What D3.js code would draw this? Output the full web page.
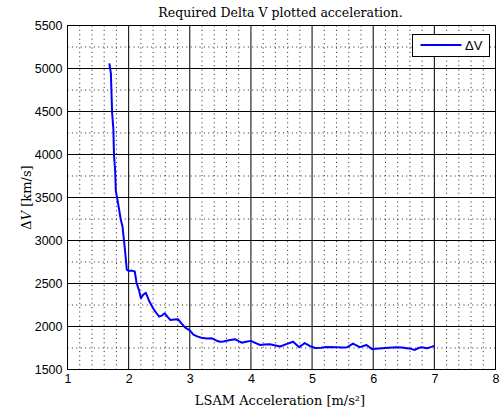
<!DOCTYPE html>
<html><head><meta charset="utf-8">
<script src="https://cdn.jsdelivr.net/npm/d3@7"></script>
<style>body{margin:0;background:#fff}svg{display:block}</style>
</head><body><svg id="c" width="500" height="412"></svg>
<script>
const accel = [1.684,1.70,1.71,1.72,1.73,1.75,1.76,1.78,1.79,1.80,1.83,1.87,1.90,1.94,1.97,2.00,2.05,2.10,2.13,2.17,2.20,2.24,2.28,2.34,2.40,2.45,2.50,2.55,2.59,2.64,2.68,2.75,2.81,2.86,2.92,3.00,3.06,3.12,3.19,3.28,3.36,3.44,3.49,3.55,3.64,3.74,3.80,3.85,3.92,4.00,4.07,4.15,4.22,4.31,4.40,4.48,4.58,4.69,4.79,4.88,4.96,5.05,5.15,5.24,5.40,5.50,5.57,5.67,5.78,5.89,5.98,6.10,6.25,6.38,6.47,6.55,6.62,6.68,6.74,6.79,6.88,6.94,7.00];
const deltaV = [5060,4990,4940,4700,4480,4300,4000,3800,3580,3540,3420,3250,3160,2890,2660,2645,2650,2640,2506,2420,2328,2370,2393,2290,2212,2160,2114,2130,2153,2110,2076,2080,2084,2040,1990,1955,1905,1885,1870,1860,1863,1835,1823,1825,1840,1853,1830,1812,1822,1833,1810,1785,1790,1793,1780,1768,1795,1823,1760,1808,1775,1750,1752,1762,1758,1755,1758,1802,1760,1785,1737,1745,1752,1758,1755,1747,1740,1727,1750,1758,1747,1760,1775];
const xTicks = [1,2,3,4,5,6,7,8];
const yTicks = [1500,2000,2500,3000,3500,4000,4500,5000,5500];
const title = "Required Delta V plotted acceleration.";
const xLabel = "LSAM Acceleration [m/s²]";
const seriesName = "ΔV";

const svg = d3.select("#c");
const L=67.5, R=495.5, T=25.5, B=369.5;
const x = d3.scaleLinear().domain([1,8]).range([L,R]);
const y = d3.scaleLinear().domain([1500,5500]).range([B,T]);

// minor grid (dotted)
const xMinor = d3.range(1,8.001,0.2).filter(v=>Math.abs(v-Math.round(v))>1e-6);
const yMinor = d3.range(1750,5500,500);
const g = svg.append("g");
g.selectAll(".xm").data(xMinor).join("line")
  .attr("x1",d=>x(d)).attr("x2",d=>x(d)).attr("y1",T).attr("y2",B)
  .attr("stroke","#222").attr("stroke-width",1).attr("stroke-dasharray","1,3.4");
g.selectAll(".ym").data(yMinor).join("line")
  .attr("x1",L).attr("x2",R).attr("y1",d=>y(d)).attr("y2",d=>y(d))
  .attr("stroke","#222").attr("stroke-width",1).attr("stroke-dasharray","1,3.4");
// major grid (solid)
g.selectAll(".xM").data(xTicks.slice(1,-1)).join("line")
  .attr("x1",d=>x(d)).attr("x2",d=>x(d)).attr("y1",T).attr("y2",B)
  .attr("stroke","#000").attr("stroke-width",1);
g.selectAll(".yM").data(yTicks.slice(1,-1)).join("line")
  .attr("x1",L).attr("x2",R).attr("y1",d=>y(d)).attr("y2",d=>y(d))
  .attr("stroke","#000").attr("stroke-width",1);

// axes
const xa = svg.append("g").attr("transform",`translate(0,${B})`)
  .call(d3.axisBottom(x).tickValues(xTicks).tickFormat(d3.format("d")).tickSize(0).tickPadding(5));
const ya = svg.append("g").attr("transform",`translate(${L},0)`)
  .call(d3.axisLeft(y).tickValues(yTicks).tickFormat(d3.format("d")).tickSize(0).tickPadding(5));
[xa,ya].forEach(a=>{a.select(".domain").remove();
  a.selectAll("text").attr("font-family","Liberation Sans, Arial, sans-serif").attr("font-size",12.5).attr("fill","#000");});

// box
svg.append("rect").attr("x",L).attr("y",T).attr("width",R-L).attr("height",B-T)
  .attr("fill","none").attr("stroke","#000").attr("stroke-width",1);

// line
const line = d3.line().x((d,i)=>x(accel[i])).y(d=>y(d));
svg.append("path").datum(deltaV).attr("d",line)
  .attr("fill","none").attr("stroke","#0000ff").attr("stroke-width",2).attr("stroke-linejoin","round");

// title & labels
const serif = "DejaVu Serif, Liberation Serif, serif";
svg.append("text").attr("x",(L+R)/2-1).attr("y",17).attr("text-anchor","middle")
  .attr("font-family",serif).attr("font-size",12.5).text(title);
svg.append("text").attr("x",280).attr("y",405).attr("text-anchor","middle")
  .attr("font-family",serif).attr("font-size",13).text(xLabel);
const yl = svg.append("text").attr("transform",`translate(31,${(T+B)/2}) rotate(-90)`)
  .attr("text-anchor","middle").attr("font-family",serif).attr("font-size",13);
yl.append("tspan").text("Δ");
yl.append("tspan").attr("font-style","italic").text("V");
yl.append("tspan").text("  [km/s]");

// legend
const lg = svg.append("g");
lg.append("rect").attr("x",412.5).attr("y",34.5).attr("width",77).attr("height",22)
  .attr("fill","#fff").attr("stroke","#000").attr("stroke-width",1);
lg.append("line").attr("x1",420.5).attr("x2",461.5).attr("y1",45).attr("y2",45)
  .attr("stroke","#0000ff").attr("stroke-width",2);
lg.append("text").attr("x",465).attr("y",50).attr("font-family","Liberation Sans, Arial, sans-serif")
  .attr("font-size",13).text(seriesName);
</script></body></html>
